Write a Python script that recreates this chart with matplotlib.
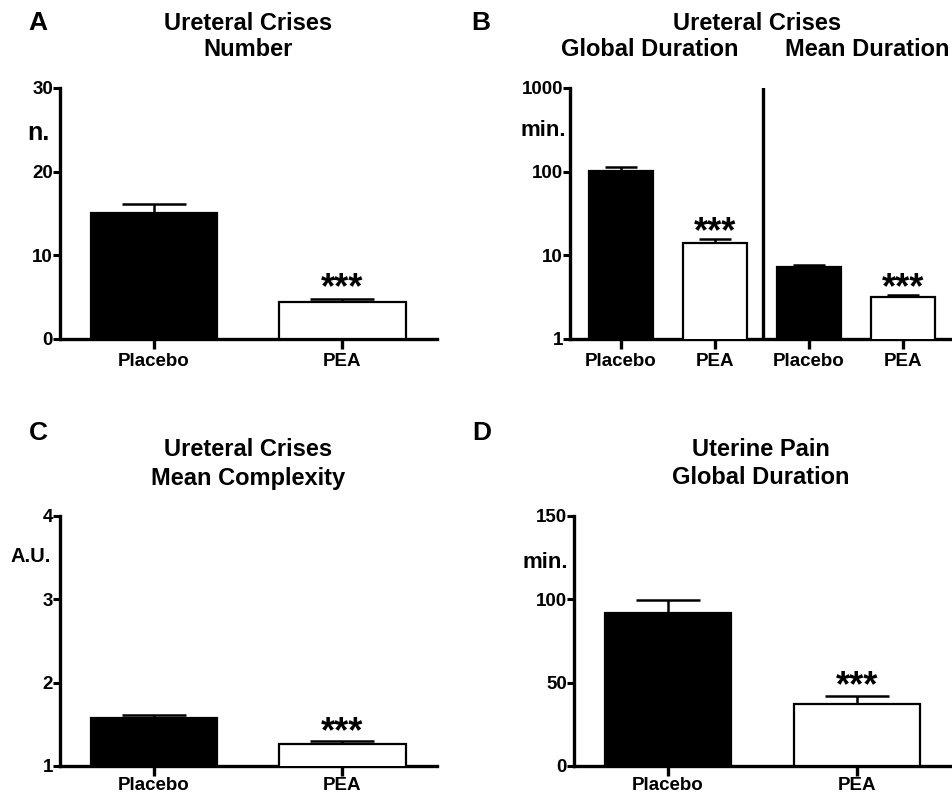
import matplotlib
matplotlib.use("Agg")
import matplotlib.pyplot as plt
import numpy as np

plt.rcParams['font.family'] = ['Liberation Sans', 'DejaVu Sans']
plt.rcParams['font.weight'] = 'bold'

groups = ["Placebo", "PEA"]

# Panel A: ureteral crises number
a_mean = [15.0, 4.4]
a_err = [1.1, 0.4]
# Panel B: global duration and mean duration (log scale)
b_labels = ["Placebo", "PEA", "Placebo", "PEA"]
b_mean = [103.0, 14.2, 7.2, 3.2]
b_err = [10.0, 1.5, 0.4, 0.12]
# Panel C: mean complexity
c_mean = [1.58, 1.26]
c_err = [0.03, 0.04]
# Panel D: uterine pain global duration
d_mean = [92.0, 37.0]
d_err = [7.5, 5.0]

colors = ["black", "white"]
W, H = 953, 793
fig = plt.figure(figsize=(W / 100, H / 100), dpi=100)

TITLE = 17
TICK = 13.5
CAT = 13.5
LETTER = 19
STAR = 26


def add_ax(x0, x1, ytop, ybot):
    return fig.add_axes([x0 / W, (H - ybot) / H, (x1 - x0) / W, (ybot - ytop) / H])


def style(ax, xpad=3):
    for s in ["top", "right"]:
        ax.spines[s].set_visible(False)
    for s in ["left", "bottom"]:
        ax.spines[s].set_linewidth(2.4)
        ax.spines[s].set_clip_on(False)
    ax.tick_params(axis='y', direction='out', length=5, width=2.2, labelsize=TICK, pad=0)
    ax.tick_params(axis='x', direction='out', length=7, width=2.4, labelsize=CAT, pad=xpad)
    ax.tick_params(axis='y', which='minor', length=0)
    for lab in ax.get_xticklabels() + ax.get_yticklabels():
        lab.set_fontweight('bold')


def bars(ax, x, means, errs, cols, width, capsize):
    ax.bar(x, means, width=width, color=cols, edgecolor='black', linewidth=1.6, zorder=3)
    ax.errorbar(x, means, yerr=[np.zeros(len(errs)), errs], fmt='none', ecolor='black',
                elinewidth=1.8, capsize=capsize, capthick=1.8, zorder=2)


def stars(ax, x, y):
    ax.annotate("***", xy=(x, y), xytext=(0, -8), textcoords='offset points',
                ha='center', va='bottom', fontsize=STAR, fontweight='bold', zorder=4)


def ftext(x, y, s, size=TITLE):
    fig.text(x / W, 1 - y / H, s, ha='center', va='center', fontsize=size, fontweight='bold')


# ---------- Panel A ----------
axA = add_ax(60, 437, 88, 339)
bars(axA, [0, 1], a_mean, a_err, colors, 0.675, 23)
axA.set_xlim(-0.5, 1.505)
axA.set_ylim(0, 30)
axA.set_yticks([0, 10, 20, 30])
axA.set_xticks([0, 1])
axA.set_xticklabels(groups)
style(axA)
stars(axA, 1, a_mean[1] + a_err[1] + 0.5)
ftext(248, 23, "Ureteral Crises")
ftext(248, 50, "Number")
ftext(38, 23, "A", LETTER)
ftext(38, 133, "n.", 18)

# ---------- Panel B ----------
axB = add_ax(570, 953, 88, 339)
bars(axB, [0, 1, 2, 3], b_mean, b_err, colors * 2, 0.68, 11.5)
axB.set_yscale('log')
axB.set_ylim(1, 1000)
axB.set_xlim(-0.54, 3.53)
axB.set_yticks([1, 10, 100, 1000])
axB.set_yticklabels(["1", "10", "100", "1000"])
axB.set_xticks([0, 1, 2, 3])
axB.set_xticklabels(b_labels)
axB.axvline(1.51, ymin=0, ymax=1, color='black', linewidth=2.4, zorder=5)
style(axB)
stars(axB, 1, b_mean[1] + b_err[1])
stars(axB, 3, b_mean[3] + b_err[3])
ftext(757, 23, "Ureteral Crises")
ftext(650, 50, "Global Duration")
ftext(867, 50, "Mean Duration")
ftext(481, 23, "B", LETTER)
ftext(543, 130, "min.", 16)

# ---------- Panel C ----------
axC = add_ax(60, 437, 516, 766)
bars(axC, [0, 1], c_mean, c_err, colors, 0.675, 23)
axC.set_xlim(-0.5, 1.505)
axC.set_ylim(1, 4)
axC.set_yticks([1, 2, 3, 4])
axC.set_xticks([0, 1])
axC.set_xticklabels(groups)
style(axC, xpad=1)
stars(axC, 1, c_mean[1] + c_err[1] + 0.02)
ftext(248, 450, "Ureteral Crises")
ftext(248, 478, "Mean Complexity")
ftext(38, 433, "C", LETTER)
ftext(31, 557, "A.U.", 14.5)

# ---------- Panel D ----------
axD = add_ax(574, 953, 516, 766)
bars(axD, [0, 1], d_mean, d_err, colors, 0.67, 23)
axD.set_xlim(-0.497, 1.508)
axD.set_ylim(0, 150)
axD.set_yticks([0, 50, 100, 150])
axD.set_xticks([0, 1])
axD.set_xticklabels(groups)
style(axD, xpad=1)
stars(axD, 1, d_mean[1] + d_err[1] + 2)
ftext(761, 450, "Uterine Pain")
ftext(761, 478, "Global Duration")
ftext(482, 433, "D", LETTER)
ftext(545, 562, "min.", 16)

fig.savefig("out.png", dpi=100, facecolor='white')
